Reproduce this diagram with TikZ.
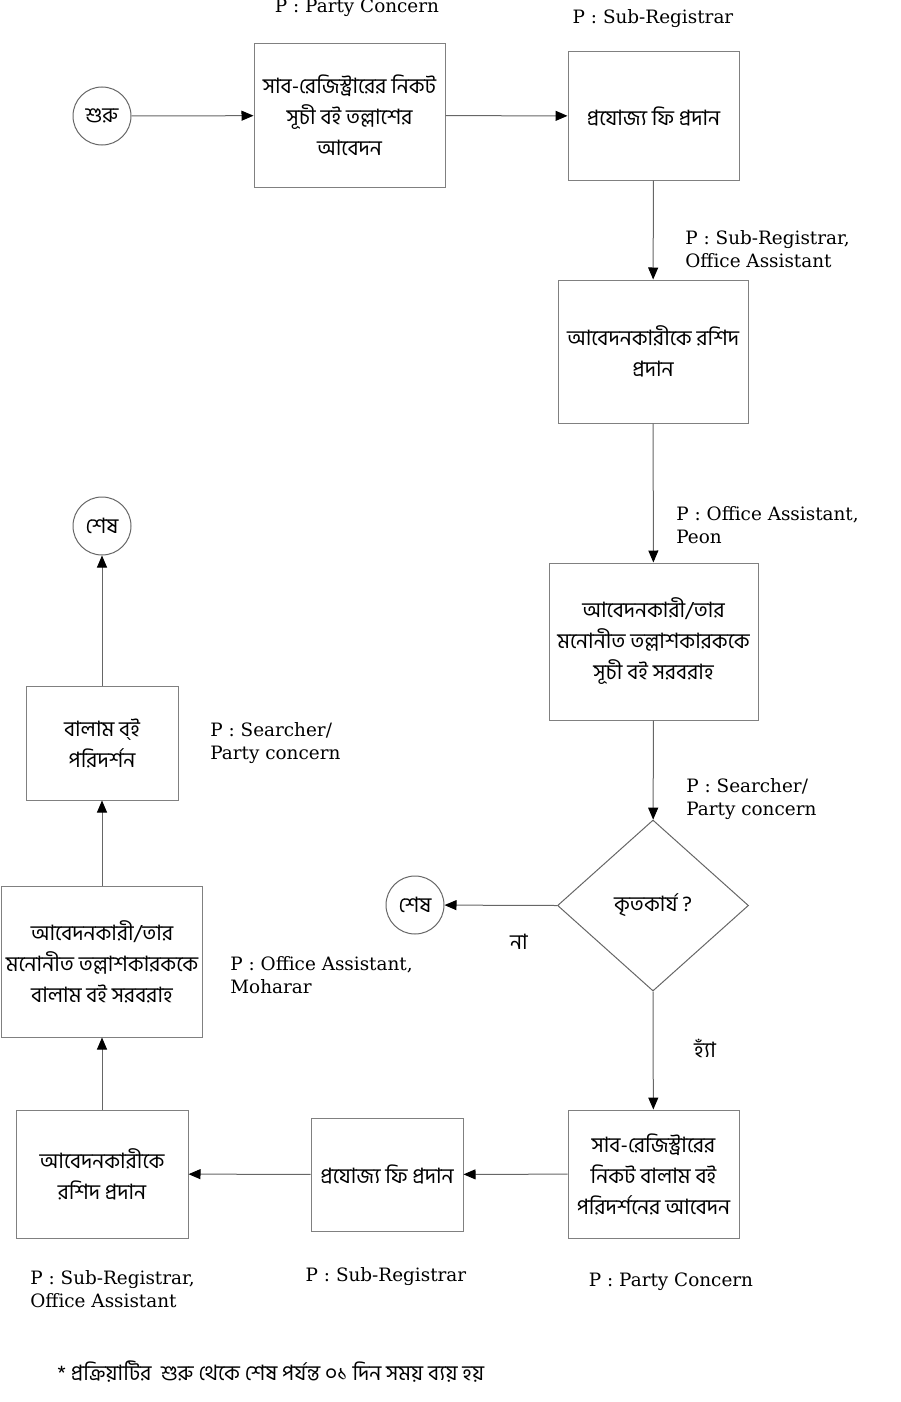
\documentclass[tikz,border=0pt]{standalone}
\usepackage{fontspec}
\setmainfont{DejaVu Serif}
\newfontfamily\bn[Script=Bengali]{Hind Siliguri}
\usetikzlibrary{shapes.geometric,arrows.meta}
\tikzset{
  box/.style={draw=black!50, line width=0.5pt, rectangle, inner sep=2pt, align=center, font=\bn\fontsize{10.6}{15.5}\selectfont, text=black},
  endc/.style={draw=black!60, line width=0.5pt, circle, minimum size=29pt, inner sep=0pt, font=\bn\fontsize{10.6}{12}\selectfont},
  dia/.style={draw=black!60, line width=0.5pt, diamond, inner sep=0pt, minimum width=95.5pt, minimum height=85.5pt, font=\bn\fontsize{10.6}{12}\selectfont},
  lab/.style={font=\fontsize{9.2}{11.5}\selectfont, align=left, inner sep=0pt},
  blab/.style={font=\bn\fontsize{10.6}{12}\selectfont, inner sep=0pt},
  conn/.style={draw=black!60, line width=0.5pt, -{Triangle[length=6pt,width=5pt,fill=black,color=black]}},
}
\begin{document}
\begin{tikzpicture}[x=0.5pt,y=-0.5pt]
\useasboundingbox (0,0) rectangle (900,1402);
\node[endc] (start) at (102,116) {শুরু};
\node[box, minimum width=95.5pt, minimum height=71.5pt] (b1) at (349.5,115.5) {সাব-রেজিস্ট্রারের নিকট\\সূচী বই তল্লাশের\\আবেদন};
\node[box, minimum width=85.5pt, minimum height=64pt] (b2) at (653.5,116) {প্রযোজ্য ফি প্রদান};
\node[box, minimum width=95pt, minimum height=71.5pt] (b3) at (653,351.5) {আবেদনকারীকে রশিদ\\প্রদান};
\node[box, minimum width=104.5pt, minimum height=78.5pt] (b4) at (653.5,641.5) {আবেদনকারী/তার\\মনোনীত তল্লাশকারককে\\সূচী বই সরবরাহ};
\node[dia] (d) at (653,905.5) {কৃতকার্য ?};
\node[endc] (end2) at (415,905) {শেষ};
\node[box, minimum width=85.5pt, minimum height=64pt] (b5) at (653.5,1174) {সাব-রেজিস্ট্রারের\\নিকট বালাম বই\\পরিদর্শনের আবেদন};
\node[box, minimum width=76pt, minimum height=56.5pt] (b6) at (387,1174.5) {প্রযোজ্য ফি প্রদান};
\node[box, minimum width=86pt, minimum height=64pt] (b7) at (102,1174) {আবেদনকারীকে\\রশিদ প্রদান};
\node[box, minimum width=100pt, minimum height=75.5pt] (b8) at (102,961.5) {আবেদনকারী/তার\\মনোনীত তল্লাশকারককে\\বালাম বই সরবরাহ};
\node[box, minimum width=76pt, minimum height=57pt] (b9) at (102,743) {বালাম ব্ই\\পরিদর্শন};
\node[endc] (end1) at (102,526) {শেষ};

\node[lab] (l1) at (357,8) {P : Party Concern};
\node[lab] (l2) at (653,19) {P : Sub-Registrar};
\node[lab, anchor=west] (l3) at (685,249.5) {P : Sub-Registrar,\\Office Assistant};
\node[lab, anchor=west] (l4) at (676,525.5) {P : Office Assistant,\\Peon};
\node[lab, anchor=west] (l5) at (686,799.5) {P : Searcher/\\Party concern};
\node[blab] (no) at (519,942) {না};
\node[blab] (yes) at (705,1048) {হ্যাঁ};
\node[lab] (l6) at (671,1282) {P : Party Concern};
\node[lab] (l7) at (386,1277) {P : Sub-Registrar};
\node[lab, anchor=west] (l8) at (30,1289) {P : Sub-Registrar,\\Office Assistant};
\node[lab, anchor=west] (l9) at (230,975) {P : Office Assistant,\\Moharar};
\node[lab, anchor=west] (l10) at (210,743.5) {P : Searcher/\\Party concern};
\node[blab, anchor=west] (foot) at (57,1372) {* প্রক্রিয়াটির\ \ শুরু থেকে শেষ পর্যন্ত ০১ দিন সময় ব্যয় হয়};

\draw[conn] (start) -- (b1);
\draw[conn] (b1) -- (b2);
\draw[conn] (b2) -- (b3);
\draw[conn] (b3) -- (b4);
\draw[conn] (b4) -- (d);
\draw[conn] (d.west) -- (end2);
\draw[conn] (d.south) -- (b5);
\draw[conn] (b5) -- (b6);
\draw[conn] (b6) -- (b7);
\draw[conn] (b7) -- (b8);
\draw[conn] (b8) -- (b9);
\draw[conn] (b9) -- (end1);
\end{tikzpicture}
\end{document}
